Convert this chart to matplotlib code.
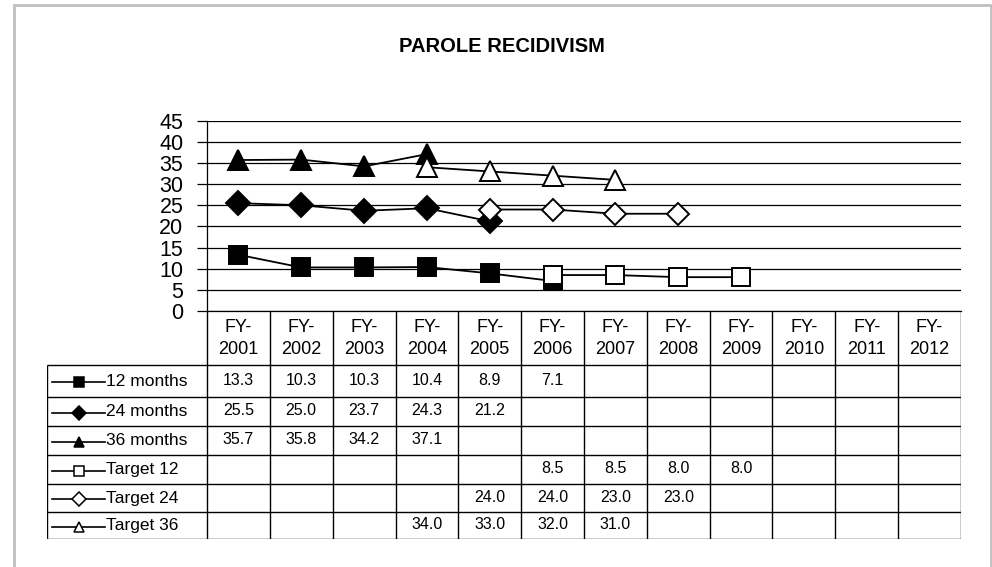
import numpy as np
import matplotlib
matplotlib.use("Agg")
import matplotlib.pyplot as plt
from matplotlib.patches import Rectangle

plt.rcParams["font.family"] = ["Liberation Sans", "DejaVu Sans"]

years = ["2001", "2002", "2003", "2004", "2005", "2006",
         "2007", "2008", "2009", "2010", "2011", "2012"]
series_names = ["12 months", "24 months", "36 months",
                "Target 12", "Target 24", "Target 36"]
m12 = [13.3, 10.3, 10.3, 10.4, 8.9, 7.1, None, None, None, None, None, None]
m24 = [25.5, 25.0, 23.7, 24.3, 21.2, None, None, None, None, None, None, None]
m36 = [35.7, 35.8, 34.2, 37.1, None, None, None, None, None, None, None, None]
t12 = [None, None, None, None, None, 8.5, 8.5, 8.0, 8.0, None, None, None]
t24 = [None, None, None, None, 24.0, 24.0, 23.0, 23.0, None, None, None, None]
t36 = [None, None, None, 34.0, 33.0, 32.0, 31.0, None, None, None, None, None]
all_series = [m12, m24, m36, t12, t24, t36]
markers = ["s", "D", "^", "s", "D", "^"]
filled = [True, True, True, False, False, False]
msizes = [13.5, 12, 15, 12.5, 11.5, 14]

W, H = 992, 567
fig = plt.figure(figsize=(W / 100, H / 100), dpi=100)

def px_rect(x0, y0, x1, y1):
    return [x0 / W, 1 - y1 / H, (x1 - x0) / W, (y1 - y0) / H]

# gray outer frame
fig.patches.append(Rectangle((13.5 / W, -0.1), (991 - 13.5) / W, 1.1 - 4.5 / H,
                             transform=fig.transFigure, fill=False,
                             edgecolor="#c0c0c0", linewidth=2))

fig.text(502 / W, 1 - 46 / H, "PAROLE RECIDIVISM", ha="center", va="center",
         fontsize=14.5, fontweight="bold")

x_left, x_right = 207, 961
ax = fig.add_axes(px_rect(x_left, 120.7, x_right, 311))
n = len(years)
x = np.arange(n)
for vals, mk, fl, ms in zip(all_series, markers, filled, msizes):
    y = np.array([np.nan if v is None else v for v in vals])
    ax.plot(x, y, color="black", linewidth=1.3, marker=mk, markersize=ms,
            markerfacecolor="black" if fl else "white",
            markeredgecolor="black", markeredgewidth=1.4, clip_on=False, zorder=3)
ax.set_xlim(-0.5, n - 0.5)
ax.set_ylim(0, 45)
ax.set_yticks(np.arange(0, 46, 5))
ax.yaxis.grid(True, color="black", linewidth=0.9)
ax.set_axisbelow(True)
ax.set_xticks([])
for s in ["top", "right"]:
    ax.spines[s].set_visible(False)
ax.spines["left"].set_linewidth(0.9)
ax.spines["bottom"].set_linewidth(0.9)
ax.tick_params(axis="y", length=7, width=0.9, labelsize=15.5, pad=10)

# data table below the plot
col_w = (x_right - x_left) / n
leg_left = 47
x_min = -0.5 - (x_left - leg_left) / col_w
row_edges = [311, 365, 397, 426, 455, 484, 512, 539]
tb = fig.add_axes(px_rect(leg_left, 311, x_right, 539))
tb.set_xlim(x_min, n - 0.5)
tb.set_ylim(539, 311)
tb.axis("off")

lw = 1.0
tb.vlines(np.arange(n + 1) - 0.5, 311, 539, color="black", linewidth=lw)
for yy in row_edges[1:]:
    tb.hlines(yy, x_min, n - 0.5, color="black", linewidth=lw)
tb.vlines(x_min, 365, 539, color="black", linewidth=lw)

for i, yr in enumerate(years):
    tb.text(i, 327, "FY-", ha="center", va="center", fontsize=13)
    tb.text(i, 349, yr, ha="center", va="center", fontsize=13)

for r, (name, vals, mk, fl) in enumerate(zip(series_names, all_series, markers, filled)):
    yc = (row_edges[r + 1] + row_edges[r + 2]) / 2
    for i, v in enumerate(vals):
        if v is not None:
            tb.text(i, yc - 1, f"{v:.1f}", ha="center", va="center", fontsize=11.5)
    lx0 = x_min + 5 / col_w
    lx1 = x_min + 58 / col_w
    tb.plot([lx0, lx1], [yc + 1, yc + 1], color="black", linewidth=1.2)
    tb.plot([(lx0 + lx1) / 2], [yc + 1], marker=mk, markersize=7,
            markerfacecolor="black" if fl else "white",
            markeredgecolor="black", markeredgewidth=1.1, color="black")
    tb.text(lx1 + 1 / col_w, yc, name, ha="left", va="center", fontsize=12.5)

fig.savefig("out.png", dpi=100)
